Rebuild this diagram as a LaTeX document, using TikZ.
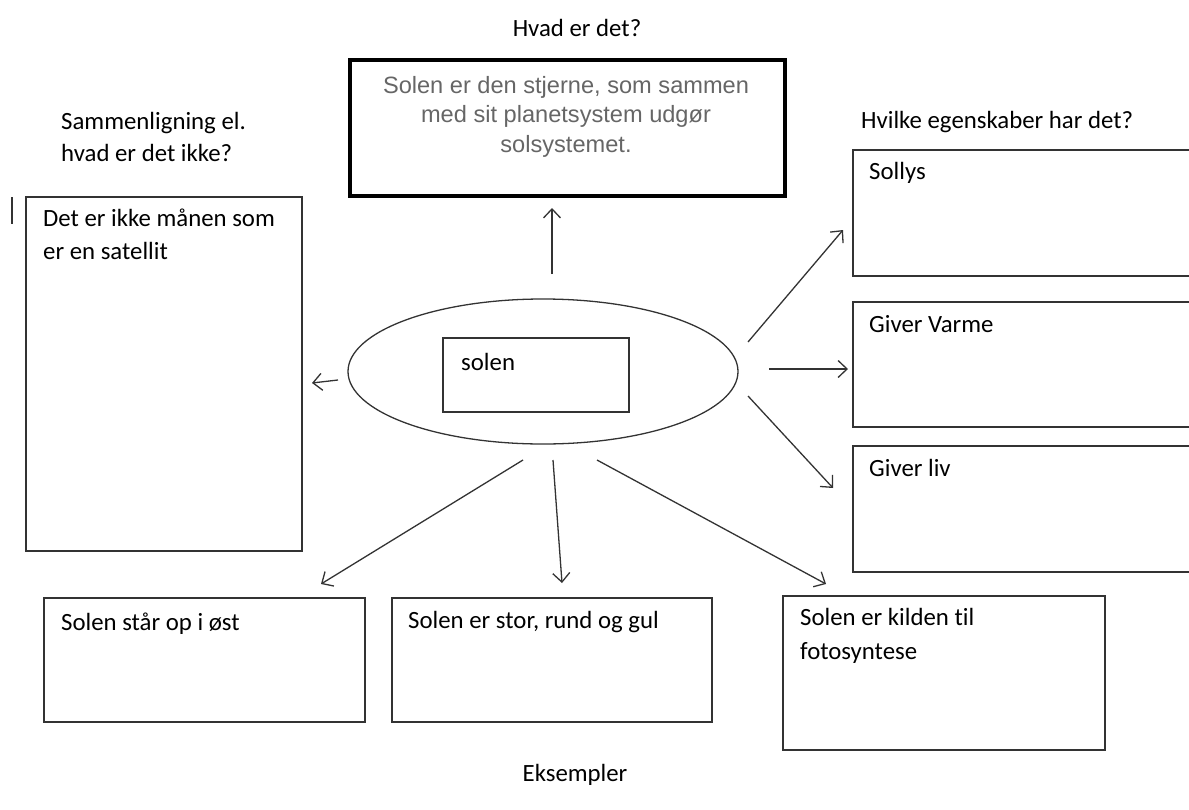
\documentclass[tikz,border=0pt]{standalone}
\usepackage{fontspec}
\setmainfont[Ligatures=NoCommon]{Carlito}
\newfontfamily\arialfont{Liberation Sans}
\usetikzlibrary{arrows.meta,shapes.geometric}
\definecolor{boxline}{HTML}{333333}
\definecolor{graytext}{HTML}{666666}
\tikzset{
  plainbox/.style={draw=boxline,line width=1.6pt,rectangle,inner sep=0pt},
  lbl/.style={anchor=base west,inner sep=0pt,font=\fontsize{24.8}{28}\selectfont},
  clbl/.style={anchor=base,inner sep=0pt,font=\fontsize{24.8}{28}\selectfont},
  conn/.style={draw=boxline,line width=1.3pt,-{Straight Barb[length=9pt,width=17pt,line width=1.3pt]}}
}
\begin{document}
\begin{tikzpicture}[x=1pt,y=-1pt]
\useasboundingbox (0,0) rectangle (1189,809);
\clip (0,0) rectangle (1189,809);
% headings
\node[clbl] (hvad) at (577,36) {Hvad er det?};
\node[lbl] (samm1) at (61,129) {Sammenligning el.};
\node[lbl] (samm2) at (61,161) {hvad er det ikke?};
\node[lbl] (hvilke) at (861,128) {Hvilke egenskaber har det?};
\node[clbl] (eks) at (575,781) {Eksempler};
% cursor mark
\draw[line width=1.3pt,boxline] (12,197) coordinate (cur1) -- (12,224) coordinate (cur2);
% top box
\draw[line width=4pt,black] (350,60) rectangle (785,196);
\node[inner sep=0pt] (topbox) at (567.5,128) {};
\begin{scope}[font=\arialfont\fontsize{23.6}{28}\selectfont,text=graytext]
\node[anchor=base,inner sep=0pt] (t1) at (566,93) {Solen er den stjerne, som sammen};
\node[anchor=base,inner sep=0pt] (t2) at (566,122) {med sit planetsystem udgør};
\node[anchor=base,inner sep=0pt] (t3) at (566,152) {solsystemet.};
\end{scope}
% left box
\draw[plainbox] (26,197) rectangle (302,551);
\node[lbl] (l1) at (43,226) {Det er ikke månen som};
\node[lbl] (l2) at (43,259) {er en satellit};
% ellipse and inner box
\node[draw=boxline,line width=1.3pt,ellipse,minimum width=390pt,minimum height=145pt,inner sep=0pt] (ell) at (543,371.5) {};
\draw[plainbox] (443,338) rectangle (629,412);
\node[lbl] (solen) at (461,370) {solen};
% right boxes
\draw[plainbox] (853,150) rectangle (1200,276);
\node[lbl] (sollys) at (869,179) {Sollys};
\draw[plainbox] (853,302) rectangle (1200,427);
\node[lbl] (varme) at (869,332) {Giver Varme};
\draw[plainbox] (853,446) rectangle (1200,572);
\node[lbl] (liv) at (869,476) {Giver liv};
% bottom boxes
\draw[plainbox] (44,598) rectangle (365,722);
\node[lbl] (b1) at (61,630) {Solen står op i øst};
\draw[plainbox] (392,598) rectangle (712,722);
\node[lbl] (b2) at (408,628) {Solen er stor, rund og gul};
\draw[plainbox] (783,596) rectangle (1105,750);
\node[lbl] (b3a) at (800,625) {Solen er kilden til};
\node[lbl] (b3b) at (800,659) {fotosyntese};
% arrow coordinates
\coordinate (upS) at (552,274); \coordinate (upE) at (552,208);
\coordinate (lS) at (338,380); \coordinate (lE) at (312,383);
\coordinate (r1S) at (748,342); \coordinate (r1E) at (843,230);
\coordinate (r2S) at (769,369); \coordinate (r2E) at (848,369);
\coordinate (r3S) at (748,396); \coordinate (r3E) at (833,488);
\coordinate (d1S) at (523,460); \coordinate (d1E) at (321,584);
\coordinate (d2S) at (553,460); \coordinate (d2E) at (562,583);
\coordinate (d3S) at (597,460); \coordinate (d3E) at (826,584);
\draw[conn] (upS) -- (upE);
\draw[conn] (lS) -- (lE);
\draw[conn] (r1S) -- (r1E);
\draw[conn] (r2S) -- (r2E);
\draw[conn] (r3S) -- (r3E);
\draw[conn] (d1S) -- (d1E);
\draw[conn] (d2S) -- (d2E);
\draw[conn] (d3S) -- (d3E);
\end{tikzpicture}
\end{document}
